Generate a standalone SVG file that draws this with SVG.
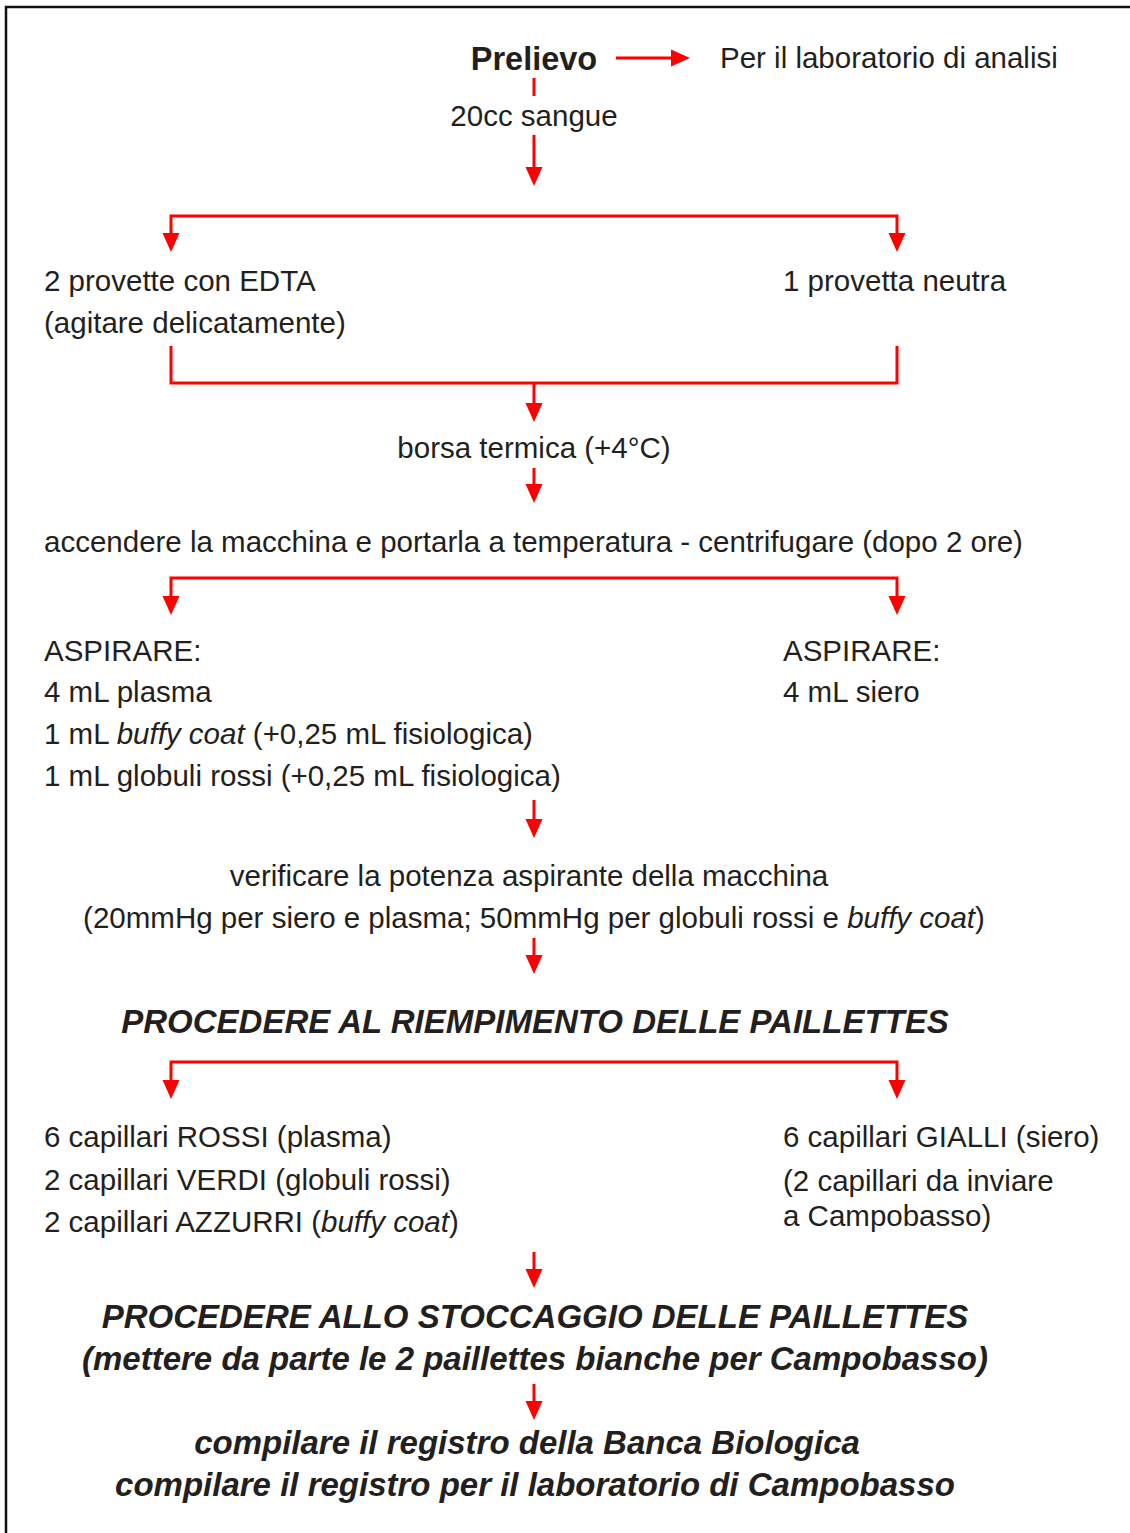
<svg xmlns="http://www.w3.org/2000/svg" width="1130" height="1533" viewBox="0 0 1130 1533">
<style>
.t{font-family:"Liberation Sans",Arial,sans-serif;font-size:29.5px;fill:#231f20}
.b{font-weight:bold;font-size:32.5px}
.bi{font-weight:bold;font-style:italic;font-size:33px}
.m{text-anchor:middle}
.c{fill:none;stroke:#ff0000;stroke-width:3}
.a{marker-end:url(#ah)}
</style>
<defs>
<marker id="ah" markerUnits="userSpaceOnUse" markerWidth="22" markerHeight="22" viewBox="0 -11 22 22" refX="0" refY="0" orient="auto" overflow="visible">
<path d="M0,-8.5 L19,0 L0,8.5 z" fill="#ff0000"/>
</marker>
</defs>
<rect width="1130" height="1533" fill="#ffffff"/>
<path d="M6,1533 V7 H1130" fill="none" stroke="#111" stroke-width="2.5"/>
<g id="connectors">
<path class="c a" d="M616,58 H671"/>
<path class="c" d="M534,78 V96"/>
<path class="c a" d="M534,135 V167"/>
<path class="c a" d="M534,216 H171 V233"/>
<path class="c a" d="M534,216 H897 V233"/>
<path class="c" d="M171,346 V383 H897 V346"/>
<path class="c a" d="M534,383 V403"/>
<path class="c a" d="M534,468 V484"/>
<path class="c a" d="M534,578 H171 V596"/>
<path class="c a" d="M534,578 H897 V596"/>
<path class="c a" d="M534,800 V819"/>
<path class="c a" d="M534,938 V955"/>
<path class="c a" d="M534,1062 H171 V1080"/>
<path class="c a" d="M534,1062 H897 V1080"/>
<path class="c a" d="M534,1252 V1269"/>
<path class="c a" d="M534,1384 V1401"/>
</g>
<g id="prelievo"><text class="t b m" x="534" y="70">Prelievo</text></g>
<g id="laboratorio"><text class="t" x="720" y="68">Per il laboratorio di analisi</text></g>
<g id="sangue"><text class="t m" x="534" y="126">20cc sangue</text></g>
<g id="edta"><text class="t" x="44" y="291">2 provette con EDTA</text><text class="t" x="44" y="333">(agitare delicatamente)</text></g>
<g id="neutra"><text class="t" x="783" y="291">1 provetta neutra</text></g>
<g id="borsa"><text class="t m" x="534" y="458">borsa termica (+4°C)</text></g>
<g id="accendere"><text class="t" x="44" y="552">accendere la macchina e portarla a temperatura - centrifugare (dopo 2 ore)</text></g>
<g id="aspirare-sx">
<text class="t" x="44" y="661">ASPIRARE:</text>
<text class="t" x="44" y="702">4 mL plasma</text>
<text class="t" x="44" y="744">1 mL <tspan font-style="italic">buffy coat</tspan> (+0,25 mL fisiologica)</text>
<text class="t" x="44" y="786">1 mL globuli rossi (+0,25 mL fisiologica)</text>
</g>
<g id="aspirare-dx">
<text class="t" x="783" y="661">ASPIRARE:</text>
<text class="t" x="783" y="702">4 mL siero</text>
</g>
<g id="verificare">
<text class="t m" x="529" y="886">verificare la potenza aspirante della macchina</text>
<text class="t m" x="534" y="928">(20mmHg per siero e plasma; 50mmHg per globuli rossi e <tspan font-style="italic">buffy coat</tspan>)</text>
</g>
<g id="riempimento"><text class="t bi m" x="535" y="1033">PROCEDERE AL RIEMPIMENTO DELLE PAILLETTES</text></g>
<g id="capillari-sx">
<text class="t" x="44" y="1147">6 capillari ROSSI (plasma)</text>
<text class="t" x="44" y="1190">2 capillari VERDI (globuli rossi)</text>
<text class="t" x="44" y="1232">2 capillari AZZURRI (<tspan font-style="italic">buffy coat</tspan>)</text>
</g>
<g id="capillari-dx">
<text class="t" x="783" y="1147">6 capillari GIALLI (siero)</text>
<text class="t" x="783" y="1191">(2 capillari da inviare</text>
<text class="t" x="783" y="1226">a Campobasso)</text>
</g>
<g id="stoccaggio">
<text class="t bi m" x="535" y="1328">PROCEDERE ALLO STOCCAGGIO DELLE PAILLETTES</text>
<text class="t bi m" x="535" y="1370">(mettere da parte le 2 paillettes bianche per Campobasso)</text>
</g>
<g id="registro">
<text class="t bi m" x="527" y="1454">compilare il registro della Banca Biologica</text>
<text class="t bi m" x="535" y="1496">compilare il registro per il laboratorio di Campobasso</text>
</g>
</svg>
